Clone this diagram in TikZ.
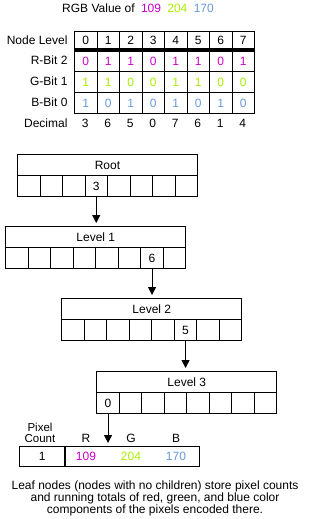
\documentclass[tikz,border=0pt]{standalone}
\usepackage{fontspec}
\setmainfont{Liberation Sans}
\usetikzlibrary{arrows.meta, positioning}
\definecolor{RedBit}{RGB}{204, 0, 204}
\definecolor{GreenBit}{RGB}{170, 238, 0}
\definecolor{BlueBit}{RGB}{102, 153, 221}
\begin{document}
\begin{tikzpicture}[x=1pt, y=-1pt, font=\fontsize{12}{12}\selectfont, line width=1pt,
  cell/.style={draw, minimum width=22.5pt, minimum height=21pt, inner sep=0pt, anchor=north west},
  head/.style={cell, minimum width=180pt}, lab/.style={anchor=east, inner sep=0pt},
  ar/.style={-{Triangle[length=8pt, width=8pt]}, shorten >=3pt}]
\useasboundingbox (0,0) rectangle (310,519);
\node (title) at (138,8) {RGB Value of\hspace{3pt} \textcolor{RedBit}{109}\hspace{3pt} \textcolor{GreenBit}{204}\hspace{3pt} \textcolor{BlueBit}{170}};
% bit table
\node[lab] (tlevel) at (68,40) {Node Level};
\node[lab] (tred) at (68,60.5) {R-Bit 2};
\node[lab] (tgreen) at (68,81.5) {G-Bit 1};
\node[lab] (tblue) at (68,102.5) {B-Bit 0};
\node[lab] (tdec) at (68,123) {Decimal};
\foreach \r/\g/\b/\d [count=\i from 0] in {0/1/1/3, 1/1/0/6, 1/0/1/5, 0/0/0/0, 1/1/1/7, 1/1/0/6, 0/0/1/1, 1/0/0/4} {
  \node[cell, minimum height=18pt] (nl\i) at ({74+\i*22.5},31) {\i};
  \node[cell, text=RedBit] (rb\i) at ({74+\i*22.5},50) {\r};
  \node[cell, text=GreenBit] (gb\i) at ({74+\i*22.5},71) {\g};
  \node[cell, text=BlueBit] (bb\i) at ({74+\i*22.5},92) {\b};
  \node (dec\i) at ({85.25+\i*22.5},123) {\d};
}
\draw[line width=3.5pt] (nl0.south west) -- (nl7.south east);
% octree levels
\foreach \nm/\lbl/\x/\y/\k in {root/Root/17/154/3, lvA/Level 1/5.3/226/6, lvB/Level 2/61.3/298/5, lvC/Level 3/96.3/371/0} {
  \node[head] (\nm) at (\x,\y) {\lbl};
  \foreach \i in {0,...,7}
    \node[cell] (\nm-\i) at ({\x+\i*22.5},{\y+21}) {\ifnum\i=\k\relax\k\fi};
}
% leaf
\node[cell, minimum width=45pt, minimum height=20pt] (leaf) at (19.3,446) {1};
\node[cell, minimum width=134pt, minimum height=20pt] (sums) at (leaf.north east) {};
\node[align=center, font=\fontsize{11.5}{11}\selectfont] (cnt) at (40,432.5) {Pixel\\Count};
\node (rl) at (86,438) {R};
\node (gl) at (131,438) {G};
\node (bl) at (176,438) {B};
\node[text=RedBit] (rs) at (86,456) {109};
\node[text=GreenBit] (gs) at (131,456) {204};
\node[text=BlueBit] (bs) at (176,456) {170};
\draw[ar] (root-3.south) -- (root-3.south |- lvA.north);
\draw[ar] (lvA-6.south) -- (lvA-6.south |- lvB.north);
\draw[ar] (lvB-5.south) -- (lvB-5.south |- lvC.north);
\draw[ar] (lvC-0.south) -- (lvC-0.south |- sums.north);
\node[align=center] (note) at (155,498) {Leaf nodes (nodes with no children) store pixel counts\\and running totals of red, green, and blue color\\components of the pixels encoded there.};
\end{tikzpicture}
\end{document}
